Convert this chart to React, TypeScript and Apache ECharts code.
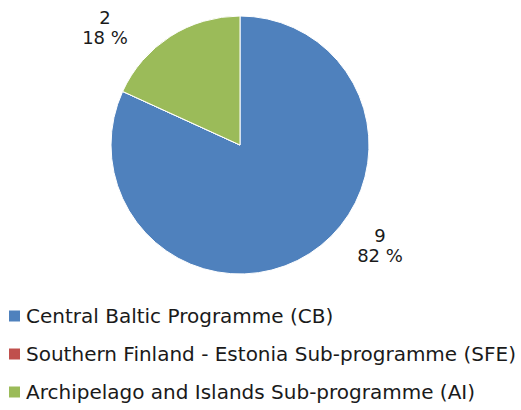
import React, { useEffect, useRef } from "react";
import * as echarts from "echarts";

const categories = [
  "Central Baltic Programme (CB)",
  "Southern Finland - Estonia Sub-programme (SFE)",
  "Archipelago and Islands Sub-programme (AI)",
];
const values = [9, 0, 2];
const colors = ["#4F81BD", "#C0504D", "#9BBB59"];

export default function App() {
  const ref = useRef<HTMLDivElement>(null);
  useEffect(() => {
    document.body.style.margin = "0";
    const chart = echarts.init(ref.current!, null, { renderer: "svg" });
    const font = "DejaVu Sans, Verdana, sans-serif";
    chart.setOption({
      animation: false,
      backgroundColor: "#ffffff",
      color: colors,
      legend: {
        orient: "vertical",
        left: 9,
        top: 306,
        height: 120,
        padding: 0,
        icon: "rect",
        itemWidth: 11,
        itemHeight: 11,
        itemGap: 18,
        itemStyle: { borderWidth: 0 },
        textStyle: {
          fontFamily: font,
          fontSize: 20,
          lineHeight: 20,
          color: "#1a1a1a",
          padding: [0, 0, 0, 1],
        },
        data: categories,
      },
      series: [
        {
          type: "pie",
          center: [240, 145],
          radius: 129,
          startAngle: 90,
          clockwise: true,
          percentPrecision: 0,
          label: {
            show: true,
            position: "outside",
            formatter: "{c}\n{d} %",
            fontFamily: font,
            fontSize: 18,
            lineHeight: 20,
            color: "#1a1a1a",
            align: "center",
          },
          labelLine: { show: false },
          labelLayout: (p: any) => {
            if (p.dataIndex === 0) return { x: 380, y: 245, align: "center", verticalAlign: "middle" };
            if (p.dataIndex === 2) return { x: 105, y: 27, align: "center", verticalAlign: "middle" };
            return {};
          },
          itemStyle: { borderColor: "#ffffff", borderWidth: 1 },
          emphasis: { disabled: true },
          data: categories.map((name, i) => ({
            name,
            value: values[i],
            label: { show: values[i] > 0 },
          })),
        },
      ],
    });
    return () => chart.dispose();
  }, []);
  return <div ref={ref} style={{ width: 521, height: 410, position: "absolute", left: 0, top: 0 }} />;
}
